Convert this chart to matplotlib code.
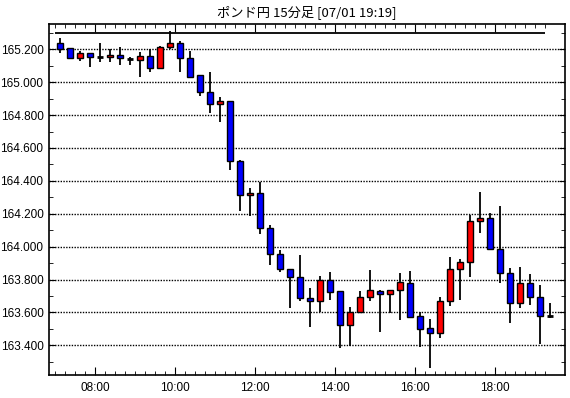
import numpy as np
import matplotlib.pyplot as plt
from matplotlib.ticker import MultipleLocator, FixedLocator

# ---------------- data (15-min candles, 07:00 - 19:15) ----------------
start_hour = 7.0
step = 0.25

opens = [165.240, 165.206, 165.145, 165.176, 165.152, 165.152, 165.165, 165.144, 165.133, 165.159,
         165.085, 165.212, 165.236, 165.145, 165.042, 164.939, 164.870, 164.887, 164.523, 164.313,
         164.329, 164.115, 163.953, 163.867, 163.818, 163.691, 163.667, 163.800, 163.733, 163.521,
         163.606, 163.697, 163.733, 163.715, 163.739, 163.782, 163.576, 163.503, 163.473, 163.667,
         163.867, 163.909, 164.158, 164.173, 163.988, 163.842, 163.655, 163.782, 163.697, 163.579]
highs = [165.270, 165.208, 165.190, 165.178, 165.236, 165.200, 165.216, 165.155, 165.185, 165.200,
         165.220, 165.311, 165.248, 165.190, 165.042, 165.062, 164.911, 164.887, 164.529, 164.359,
         164.392, 164.130, 163.978, 163.867, 163.949, 163.747, 163.824, 163.846, 163.733, 163.636,
         163.729, 163.856, 163.739, 163.739, 163.838, 163.855, 163.606, 163.559, 163.692, 163.939,
         163.923, 164.194, 164.335, 164.202, 164.246, 163.873, 163.875, 163.836, 163.765, 163.656]
lows = [165.176, 165.143, 165.130, 165.095, 165.121, 165.121, 165.103, 165.105, 165.034, 165.064,
        165.085, 165.200, 165.064, 165.028, 164.919, 164.814, 164.761, 164.464, 164.216, 164.185,
        164.080, 163.887, 163.846, 163.628, 163.668, 163.513, 163.606, 163.677, 163.382, 163.394,
        163.606, 163.668, 163.482, 163.594, 163.552, 163.564, 163.391, 163.264, 163.442, 163.640,
        163.677, 163.816, 164.082, 163.988, 163.782, 163.539, 163.630, 163.646, 163.408, 163.564]
closes = [165.204, 165.145, 165.176, 165.152, 165.151, 165.165, 165.145, 165.142, 165.159, 165.085,
          165.216, 165.236, 165.145, 165.034, 164.939, 164.870, 164.887, 164.519, 164.313, 164.329,
          164.115, 163.953, 163.865, 163.818, 163.689, 163.667, 163.800, 163.727, 163.521, 163.606,
          163.697, 163.739, 163.715, 163.739, 163.788, 163.573, 163.497, 163.473, 163.667, 163.867,
          163.909, 164.158, 164.173, 163.988, 163.842, 163.655, 163.782, 163.697, 163.576, 163.578]

day_high = 165.297
x_labels = ["08:00", "10:00", "12:00", "14:00", "16:00", "18:00"]
x_label_hours = [8, 10, 12, 14, 16, 18]
title = "ポンド円 15分足 [07/01 19:19]"

# ---------------- plot ----------------
fig = plt.figure(figsize=(5.7, 3.98), dpi=100)
ax = fig.add_axes([49 / 570, 1 - 375 / 398, 516 / 570, (375 - 24.3) / 398])

n = len(opens)
x = start_hour + step / 2 + step * np.arange(n)
o = np.array(opens)
c = np.array(closes)

ax.vlines(x, lows, highs, color="black", lw=1.3, zorder=2)

diff = c - o
doji = np.abs(diff) < 0.004
colors = np.where(diff > 0, "#ff0000", "#0000ff")
ax.bar(x[~doji], diff[~doji], bottom=o[~doji], width=0.15,
       color=colors[~doji], edgecolor="black", linewidth=1.0, zorder=3)
ax.hlines(o[doji], x[doji] - 0.075, x[doji] + 0.075, color="black", lw=2, zorder=3)

ax.hlines(day_high, start_hour, start_hour + step * (n - 1), color="black", lw=1.3, zorder=2)

ax.set_xlim(6.85, 19.75)
ax.set_ylim(163.22, 165.352)

ax.yaxis.set_major_locator(MultipleLocator(0.2))
ax.yaxis.set_minor_locator(MultipleLocator(0.1))
ax.yaxis.set_major_formatter(plt.FuncFormatter(lambda v, p: f"{v:.3f}"))
ax.xaxis.set_major_locator(FixedLocator(x_label_hours))
ax.set_xticklabels(x_labels)
ax.xaxis.set_minor_locator(FixedLocator(start_hour + step * np.arange(n)))

ax.grid(axis="y", which="major", linestyle=(0, (1, 1)), color="black", lw=1)
ax.set_axisbelow(True)

ax.tick_params(which="both", direction="in", top=True, right=True, color="black")
ax.tick_params(axis="x", which="major", length=6, pad=5)
ax.tick_params(axis="x", which="minor", length=3)
ax.tick_params(axis="y", which="major", length=4, pad=4)
ax.tick_params(axis="y", which="minor", length=3)
for lab in ax.get_xticklabels() + ax.get_yticklabels():
    lab.set_fontfamily("Liberation Sans")
    lab.set_fontsize(8.5)

for sp in ax.spines.values():
    sp.set_linewidth(1.2)

fig.text((49 + 565) / 2 / 570, 1 - 12 / 398, title, ha="center", va="center",
         fontsize=9.5, family=["Noto Sans CJK JP", "DejaVu Sans"])

fig.savefig("out.png", dpi=100)
